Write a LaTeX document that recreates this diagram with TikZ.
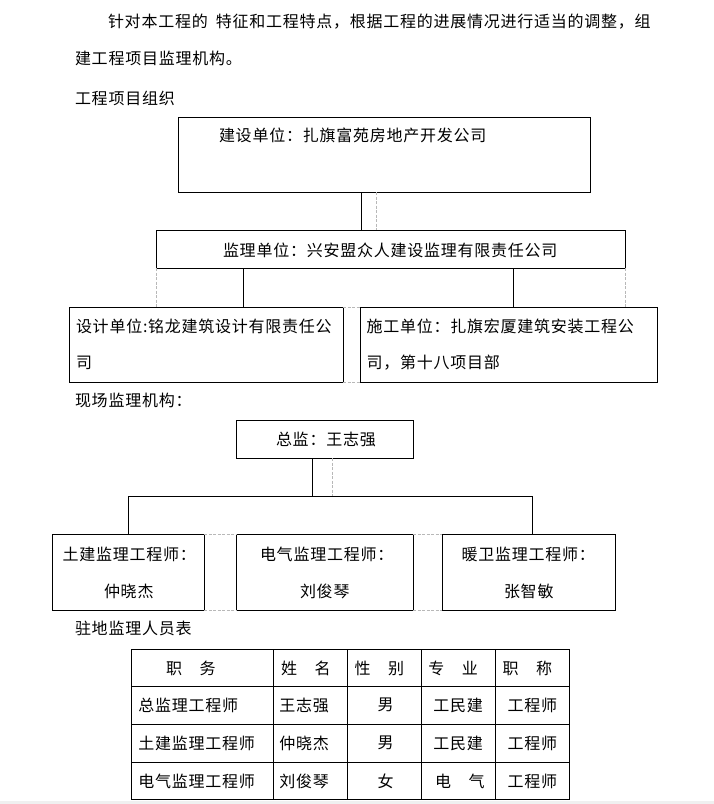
\documentclass[tikz,border=0pt]{standalone}
\usepackage{fontspec}
\newfontfamily\cjk{Noto Sans CJK SC}[LetterSpace=4.7]
\begin{document}
\begin{tikzpicture}[x=1pt,y=-1pt,
  box/.style={draw, line width=0.8pt, inner sep=0pt, outer sep=0pt, anchor=north west},
  txt/.style={inner sep=0pt, outer sep=0pt, anchor=west, font=\cjk\fontsize{16}{19}\selectfont},
  ctxt/.style={txt, anchor=center},
  link/.style={line width=0.8pt},
  ghost/.style={draw=black!28, line width=0.8pt, dash pattern=on 3pt off 1.5pt},
  tline/.style={line width=0.8pt}]
\useasboundingbox (0,0) rectangle (714,804);
\fill[white] (0,0) rectangle (714,804);
\fill[black!6] (0,801) rectangle (714,804);

% paragraph and headings
\node[txt] (p1) at (108,22) {针对本工程的\hspace{8pt}特征和工程特点，根据工程的进展情况进行适当的调整，组};
\node[txt] (p2) at (75,58) {建工程项目监理机构。};
\node[txt] (h1) at (75,98) {工程项目组织};
\node[txt] (h2) at (75,400) {现场监理机构：};
\node[txt] (h3) at (75,628) {驻地监理人员表};

% ---------- chart 1 ----------
\node[box, minimum width=412pt, minimum height=74.7pt] (owner) at (178.3,117.3) {};
\node[box, minimum width=469.4pt, minimum height=38pt] (sup) at (156.3,230.3) {};
\node[box, minimum width=273.7pt, minimum height=75pt] (des) at (69.3,307.3) {};
\node[box, minimum width=296.3pt, minimum height=75pt] (con) at (360.7,307.3) {};

\node[txt] (owner-t) at (219,135.5) {建设单位：扎旗富苑房地产开发公司};
\node[txt] (sup-t) at (223,250.5) {监理单位：兴安盟众人建设监理有限责任公司};
\node[txt] (des-t1) at (76,326.5) {设计单位:铭龙建筑设计有限责任公};
\node[txt] (des-t2) at (76,363) {司};
\node[txt] (con-t1) at (366.7,326.5) {施工单位：扎旗宏厦建筑安装工程公};
\node[txt] (con-t2) at (366.7,363) {司，第十八项目部};

\coordinate (xa) at (361.7,0);
\coordinate (xb) at (376.7,0);
\coordinate (xc) at (243.3,0);
\coordinate (xd) at (513.3,0);

\draw[link] (owner.south -| xa) -- (sup.north -| xa);
\draw[ghost] (owner.south -| xb) -- (sup.north -| xb);
\draw[link] (sup.south -| xc) -- (des.north -| xc);
\draw[link] (sup.south -| xd) -- (con.north -| xd);
\draw[ghost] (sup.south west) -- (sup.south west |- des.north);
\draw[ghost] (sup.south east) -- (sup.south east |- con.north);
\draw[ghost] (des.north east) -- (con.north west);
\draw[ghost] (des.south east) -- (con.south west);

% ---------- chart 2 ----------
\node[box, minimum width=177pt, minimum height=38pt] (chief) at (236.3,420.3) {};
\node[box, minimum width=152pt, minimum height=76pt] (civ) at (52.3,534.3) {};
\node[box, minimum width=177pt, minimum height=76pt] (ele) at (236.3,534.3) {};
\node[box, minimum width=173.4pt, minimum height=76pt] (hvac) at (442.3,534.3) {};

\node[txt] (chief-t) at (276,439.5) {总监：王志强};
\node[txt] (civ-t1) at (62.7,554) {土建监理工程师：};
\node[txt] (civ-t2) at (104,591) {仲晓杰};
\node[txt] (ele-t1) at (260,554) {电气监理工程师：};
\node[txt] (ele-t2) at (300,591) {刘俊琴};
\node[txt] (hvac-t1) at (461.7,554) {暖卫监理工程师：};
\node[txt] (hvac-t2) at (504,591) {张智敏};

\coordinate (bus) at (0,496.7);
\coordinate (xe) at (312.7,0);
\coordinate (xf) at (332.7,0);
\coordinate (xl) at (128.3,0);
\coordinate (xr) at (532.3,0);

\draw[link] (chief.south -| xe) -- (bus -| xe);
\draw[ghost] (chief.south -| xf) -- (bus -| xf);
\draw[link] (civ.north -| xl) -- (bus -| xl) -- (bus -| xr) -- (hvac.north -| xr);
\draw[ghost] (civ.north east) -- (ele.north west);
\draw[ghost] (civ.south east) -- (ele.south west);
\draw[ghost] (ele.north east) -- (hvac.north west);
\draw[ghost] (ele.south east) -- (hvac.south west);

% ---------- table ----------
\draw[tline] (131.7,649) rectangle (569.7,799);
\foreach \yy in {686.3,724.7,762.3} \draw[tline] (131.7,\yy) -- (569.7,\yy);
\foreach \xx in {273.3,347.7,421.7,495.7} \draw[tline] (\xx,649) -- (\xx,799);

\node[txt] (c11) at (166,668) {职　务};
\node[txt] (c12) at (281,668) {姓　名};
\node[txt] (c13) at (354.7,668) {性　别};
\node[txt] (c14) at (428.3,668) {专　业};
\node[txt] (c15) at (502.7,668) {职　称};

\node[txt] (c21) at (138.3,705) {总监理工程师};
\node[txt] (c22) at (279.3,705) {王志强};
\node[ctxt] (c23) at (385.5,705) {男};
\node[txt] (c24) at (433.3,705) {工民建};
\node[txt] (c25) at (507.7,705) {工程师};

\node[txt] (c31) at (138.3,743.3) {土建监理工程师};
\node[txt] (c32) at (279.3,743.3) {仲晓杰};
\node[ctxt] (c33) at (385.5,743.3) {男};
\node[txt] (c34) at (433.3,743.3) {工民建};
\node[txt] (c35) at (507.7,743.3) {工程师};

\node[txt] (c41) at (138.3,781) {电气监理工程师};
\node[txt] (c42) at (279.3,781) {刘俊琴};
\node[ctxt] (c43) at (385.5,781) {女};
\node[txt] (c44) at (435,781) {电　气};
\node[txt] (c45) at (507.7,781) {工程师};
\end{tikzpicture}
\end{document}
